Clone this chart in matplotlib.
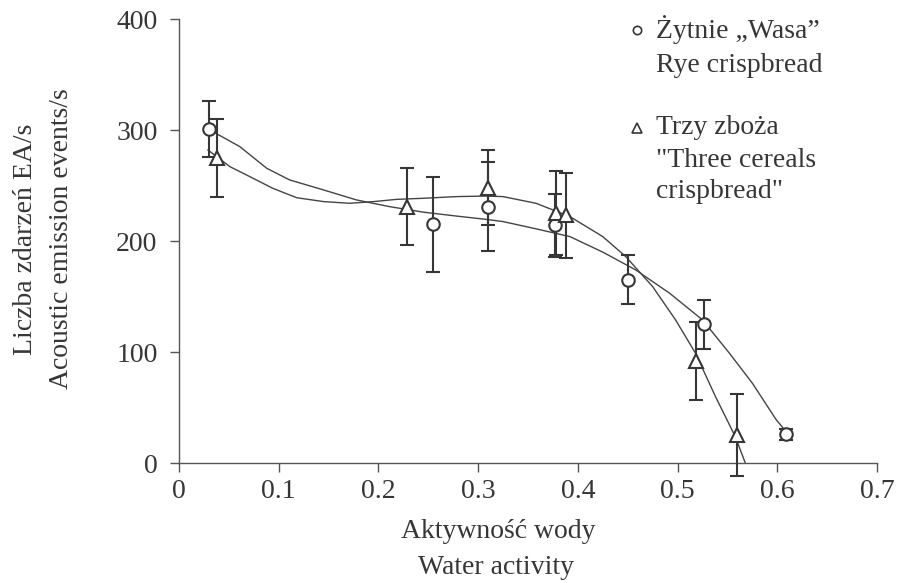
import numpy as np
import matplotlib
matplotlib.use("Agg")
import matplotlib.pyplot as plt

# Zytnie "Wasa" (circles)
wasa_x = [0.03, 0.255, 0.31, 0.377, 0.45, 0.527, 0.6085]
wasa_y = [301, 215, 231, 214, 165, 125, 26]
wasa_err = [25, 43, 40, 28, 22, 22, 5]

# Trzy zboza (triangles)
trzy_x = [0.0385, 0.229, 0.31, 0.378, 0.388, 0.519, 0.5595]
trzy_y = [275, 231, 248, 225, 223, 92, 25]
trzy_err = [35, 35, 34, 38, 38, 35, 37]

# trend lines
wasa_trend_x = [0.034, 0.061, 0.088, 0.111, 0.145, 0.178, 0.211, 0.245, 0.278,
                0.308, 0.325, 0.358, 0.392, 0.425, 0.458, 0.492, 0.525, 0.552,
                0.575, 0.599, 0.612]
wasa_trend_y = [298.5, 285, 265.5, 255, 246, 237, 231, 226, 222.5,
                219.5, 217.5, 211, 204, 190, 174, 153, 129, 99,
                72, 39, 25]
trzy_trend_x = [0.029, 0.051, 0.071, 0.094, 0.118, 0.145, 0.171, 0.195, 0.218,
                0.245, 0.278, 0.308, 0.325, 0.358, 0.392, 0.425, 0.448, 0.475,
                0.498, 0.518, 0.538, 0.558, 0.568]
trzy_trend_y = [282, 267, 258, 247.5, 239, 235.5, 234, 235.5, 237.5,
                238.5, 240, 240.5, 240, 234, 222, 204, 186, 159,
                129, 99, 60, 23.7, 0]

xticks = [0, 0.1, 0.2, 0.3, 0.4, 0.5, 0.6, 0.7]
yticks = [0, 100, 200, 300, 400]

ink = '#363636'
fs = 20
plt.rcParams['font.family'] = ['Liberation Serif', 'DejaVu Serif']

fig = plt.figure(figsize=(8.97, 5.83), dpi=100)
ax = fig.add_axes([0.1996, 0.2058, 0.778, 0.7616])

ax.plot(wasa_trend_x, wasa_trend_y, color='#444444', lw=1.0, zorder=2)
ax.plot(trzy_trend_x, trzy_trend_y, color='#444444', lw=1.0, zorder=2)

ax.errorbar(wasa_x, wasa_y, yerr=wasa_err, fmt='o', ms=9, mfc='white',
            mec=ink, mew=1.5, ecolor=ink, elinewidth=1.5, capsize=5,
            capthick=1.5, zorder=3, clip_on=False)
ax.errorbar(trzy_x, trzy_y, yerr=trzy_err, fmt='^', ms=10.5, mfc='white',
            mec=ink, mew=1.5, ecolor=ink, elinewidth=1.5, capsize=5,
            capthick=1.5, zorder=3, clip_on=False)

ax.set_xlim(0, 0.7)
ax.set_ylim(0, 400)
ax.set_xticks(xticks)
ax.set_xticklabels(['0', '0.1', '0.2', '0.3', '0.4', '0.5', '0.6', '0.7'])
ax.set_yticks(yticks)
for s in ['top', 'right']:
    ax.spines[s].set_visible(False)
for s in ['left', 'bottom']:
    ax.spines[s].set_color('#555555')
    ax.spines[s].set_linewidth(1.0)
ax.tick_params(direction='out', length=6.5, width=1.0, color='#555555',
               labelsize=fs, labelcolor=ink)
ax.tick_params(axis='x', pad=5)
ax.tick_params(axis='y', pad=9)

# axis titles
fig.text(0.028, 0.59, 'Liczba zdarzeń EA/s', rotation=90, ha='center',
         va='center', fontsize=fs, color=ink)
fig.text(0.069, 0.59, 'Acoustic emission events/s', rotation=90, ha='center',
         va='center', fontsize=fs, color=ink)
fig.text(0.555, 0.088, 'Aktywność wody', ha='center', va='center',
         fontsize=fs, color=ink)
fig.text(0.553, 0.026, 'Water activity', ha='center', va='center',
         fontsize=fs, color=ink)

# legend
ax.plot([0.656], [0.976], 'o', ms=6, mfc='white', mec=ink, mew=1.2,
        transform=ax.transAxes, clip_on=False)
ax.text(0.684, 0.976, 'Żytnie \u201eWasa\u201d', transform=ax.transAxes,
        va='center', fontsize=fs, color=ink)
ax.text(0.684, 0.896, 'Rye crispbread', transform=ax.transAxes,
        va='center', fontsize=fs, color=ink)
ax.plot([0.656], [0.755], '^', ms=6.5, mfc='white', mec=ink, mew=1.2,
        transform=ax.transAxes, clip_on=False)
ax.text(0.684, 0.755, 'Trzy zboża', transform=ax.transAxes,
        va='center', fontsize=fs, color=ink)
ax.text(0.684, 0.682, '"Three cereals', transform=ax.transAxes,
        va='center', fontsize=fs, color=ink)
ax.text(0.684, 0.612, 'crispbread"', transform=ax.transAxes,
        va='center', fontsize=fs, color=ink)

fig.savefig('out.png', dpi=100)
